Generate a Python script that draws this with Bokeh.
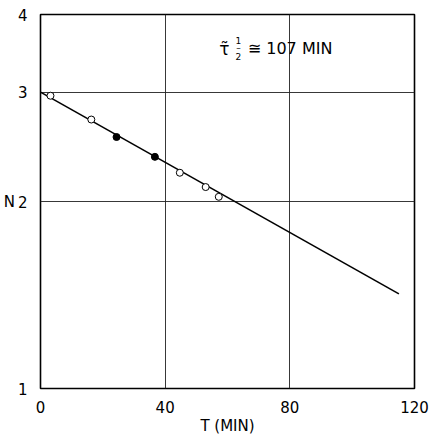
from bokeh.plotting import figure
from bokeh.models import FixedTicker, BasicTickFormatter, Range1d, Label
from bokeh.embed import file_html
from bokeh.resources import INLINE

# Data
t_open = [3.2, 16.3, 44.7, 53.0, 57.2]
n_open = [2.96, 2.71, 2.225, 2.11, 2.035]
t_filled = [24.4, 36.7]
n_filled = [2.54, 2.36]
fit_t = [0, 115]
fit_n = [3.0, 1.42]
x_ticks = [0, 40, 80, 120]
y_ticks = [1, 2, 3, 4]
x_label = "T (MIN)"
y_label = "N"

FONT = "DejaVu Sans"

p = figure(width=432, height=437, y_axis_type="log",
           x_range=Range1d(0, 120), y_range=Range1d(1, 4),
           output_backend="svg", toolbar_location=None,
           min_border_left=40, min_border_right=18,
           min_border_top=14, min_border_bottom=49)

p.background_fill_color = "white"
p.border_fill_color = "white"
p.outline_line_color = "black"
p.outline_line_width = 1.6

for ax in (p.xaxis[0], p.yaxis[0]):
    ax.axis_line_color = None
    ax.major_tick_line_color = None
    ax.minor_tick_line_color = None
    ax.major_label_text_font = FONT
    ax.major_label_text_font_size = "15px"
    ax.major_label_text_color = "black"
    ax.axis_label_text_font = FONT
    ax.axis_label_text_font_style = "normal"
    ax.axis_label_text_font_size = "15px"
    ax.axis_label_text_color = "black"

p.xaxis.ticker = FixedTicker(ticks=x_ticks)
p.yaxis.ticker = FixedTicker(ticks=y_ticks, minor_ticks=[])
p.yaxis.formatter = BasicTickFormatter()
p.xaxis.major_label_standoff = 6
p.yaxis.major_label_standoff = 7
p.xaxis.axis_label = x_label
p.xaxis.axis_label_standoff = 1
p.yaxis.axis_label = y_label
p.yaxis.axis_label_orientation = "horizontal"
p.yaxis.axis_label_standoff = 0

p.xgrid.ticker = FixedTicker(ticks=x_ticks)
p.ygrid.ticker = FixedTicker(ticks=y_ticks, minor_ticks=[])
for g in (p.xgrid[0], p.ygrid[0]):
    g.grid_line_color = "#222222"
    g.grid_line_width = 1
    g.grid_line_alpha = 0.9
p.ygrid.minor_grid_line_color = None

p.line(fit_t, fit_n, line_color="black", line_width=1.6)
p.scatter(t_open, n_open, size=7, fill_color="white", line_color="black", line_width=1)
p.scatter(t_filled, n_filled, size=7, fill_color="black", line_color="black", line_width=1)

# annotation: tau 1/2 ~= 107 MIN
p.add_layout(Label(x=59.0, y=3.52, text="τ̃", text_font=FONT, text_font_size="17px",
                   text_color="black", text_align="center", text_baseline="middle"))
p.add_layout(Label(x=63.5, y=3.63, text="1", text_font=FONT, text_font_size="9px",
                   text_color="black", text_align="center", text_baseline="middle"))
p.add_layout(Label(x=63.5, y=3.53, text="–", text_font=FONT, text_font_size="9px",
                   text_color="black", text_align="center", text_baseline="middle"))
p.add_layout(Label(x=63.5, y=3.42, text="2", text_font=FONT, text_font_size="9px",
                   text_color="black", text_align="center", text_baseline="middle"))
p.add_layout(Label(x=66.5, y=3.52, text="≅ 107 MIN", text_font=FONT, text_font_size="16px",
                   text_color="black", text_align="left", text_baseline="middle"))

open("out.html", "w").write(file_html(p, INLINE))
